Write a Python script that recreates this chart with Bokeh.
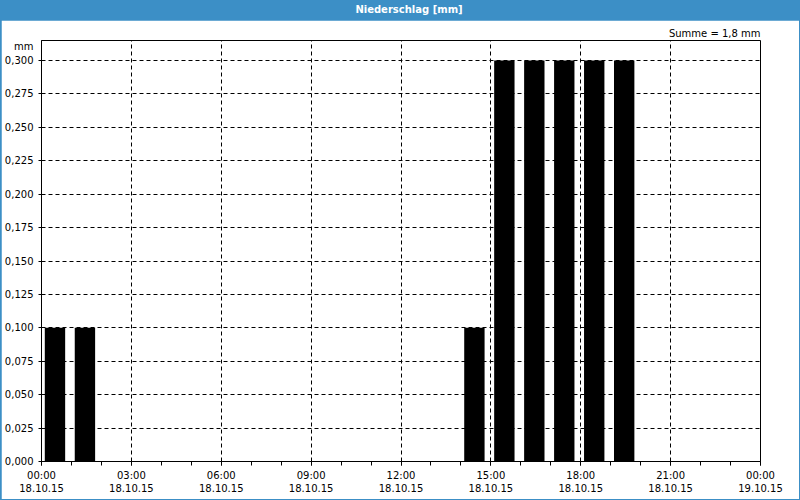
from bokeh.plotting import figure
from bokeh.layouts import column
from bokeh.models import Div, Title, Range1d, FixedTicker, CustomJSTickFormatter, ColumnDataSource
from bokeh.embed import file_html
from bokeh.resources import INLINE

# ---- data ----
hours = list(range(24))
precip = [0.1, 0.1, 0, 0, 0, 0, 0, 0, 0, 0, 0, 0, 0, 0,
          0.1, 0.3, 0.3, 0.3, 0.3, 0.3, 0, 0, 0, 0]
x_ticks = [0, 3, 6, 9, 12, 15, 18, 21, 24]
x_tick_labels = ["00:00\n18.10.15", "03:00\n18.10.15", "06:00\n18.10.15",
                 "09:00\n18.10.15", "12:00\n18.10.15", "15:00\n18.10.15",
                 "18:00\n18.10.15", "21:00\n18.10.15", "00:00\n19.10.15"]
y_ticks = [0, 0.025, 0.05, 0.075, 0.1, 0.125, 0.15, 0.175, 0.2, 0.225, 0.25, 0.275, 0.3]
title_text = "Niederschlag [mm]"
unit_text = "mm"
sum_text = "Summe = 1,8 mm"

BLUE = "#3c8fc6"
FONT = "DejaVu Sans"
Y_TOP = 0.315
UNIT_POS = 0.3105

src = ColumnDataSource(dict(x=[h + 0.45 for h in hours], top=precip))

p = figure(width=798, height=479, x_range=Range1d(0, 24), y_range=Range1d(0, Y_TOP),
           output_backend="svg", toolbar_location=None,
           min_border_left=39, min_border_right=39, min_border_top=20, min_border_bottom=38)
p.margin = (0, 1, 1, 1)
p.background_fill_color = "white"
p.border_fill_color = "white"
p.outline_line_color = "black"
p.outline_line_width = 1

p.vbar(x="x", top="top", width=0.68, bottom=0, source=src, fill_color="black", line_color=None)

# sum text above the frame, right aligned
p.add_layout(Title(text=sum_text, align="right", text_font=FONT, text_font_size="10px",
                   text_font_style="normal", text_color="black", standoff=3), "above")

# axes
xa = p.xaxis[0]
xa.ticker = FixedTicker(ticks=x_ticks, minor_ticks=list(range(25)))
xa.major_label_overrides = {t: l for t, l in zip(x_ticks, x_tick_labels)}
xa.major_tick_in = 0
xa.major_tick_out = 4
xa.minor_tick_in = 0
xa.minor_tick_out = 4
xa.major_label_standoff = 4
xa.major_label_text_font = FONT
xa.major_label_text_font_size = "10px"
xa.major_label_text_color = "black"
xa.axis_line_color = "black"
xa.major_tick_line_color = "black"
xa.minor_tick_line_color = "black"

ya = p.yaxis[0]
# labels on the major ticks (incl. the unit), tick marks drawn as minor ticks
ya.ticker = FixedTicker(ticks=y_ticks + [UNIT_POS], minor_ticks=y_ticks)
ya.formatter = CustomJSTickFormatter(
    args=dict(unit=unit_text),
    code="if (tick > 0.305) { return unit; } return tick.toFixed(3).replace('.', ',');")
ya.major_tick_in = 0
ya.major_tick_out = 0
ya.minor_tick_in = 0
ya.minor_tick_out = 3
ya.major_label_standoff = 5
ya.major_label_text_font = FONT
ya.major_label_text_font_size = "10px"
ya.major_label_text_color = "black"
ya.axis_line_color = "black"
ya.minor_tick_line_color = "black"

# grid
for g in (p.xgrid[0], p.ygrid[0]):
    g.grid_line_color = "black"
    g.grid_line_dash = "4 3"
    g.grid_line_width = 1
    g.grid_line_alpha = 1.0
p.xgrid[0].ticker = FixedTicker(ticks=x_ticks)
p.ygrid[0].ticker = FixedTicker(ticks=y_ticks)

title = Div(text=title_text, width=800, height=20, margin=0,
            styles={"background-color": BLUE, "color": "white", "font-weight": "bold",
                    "font-family": FONT, "font-size": "10px", "text-align": "center",
                    "line-height": "20px", "width": "800px", "padding-left": "18px",
                    "box-sizing": "border-box"})

layout = column(title, p, spacing=0, margin=0, styles={"background-color": BLUE})

open("out.html", "w").write(file_html(layout, INLINE))
